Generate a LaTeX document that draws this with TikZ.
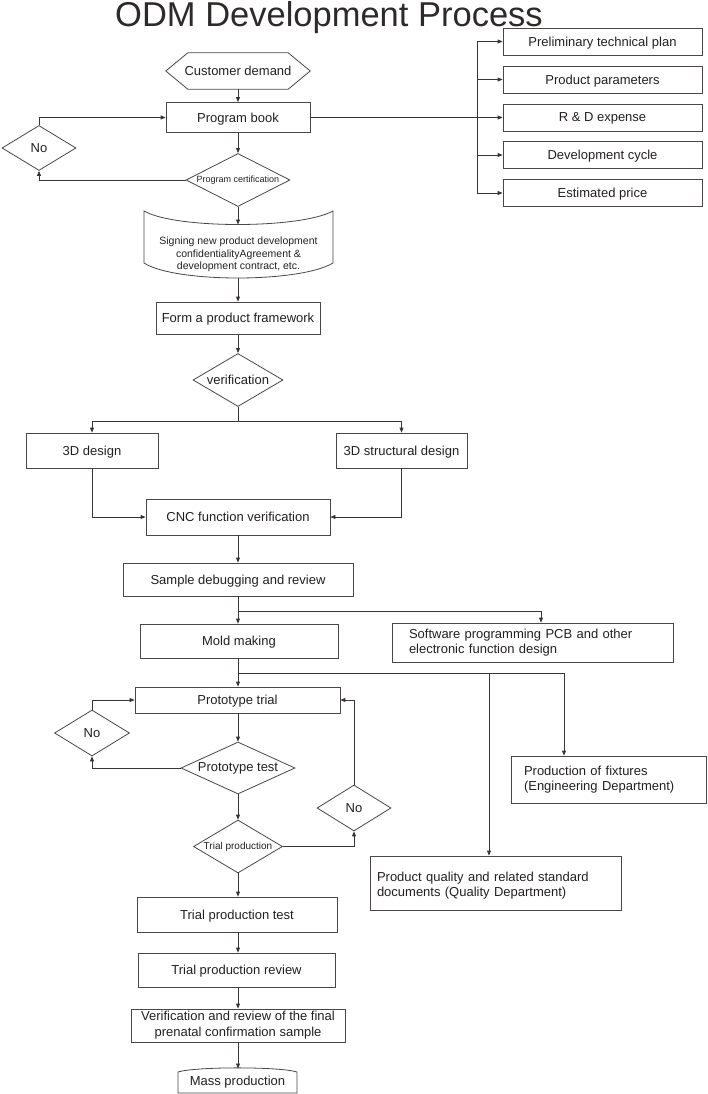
\documentclass[tikz,border=0pt]{standalone}
\usepackage{fontspec}
\setmainfont{Liberation Sans}
\usetikzlibrary{arrows.meta,shapes.geometric}
\definecolor{ln}{HTML}{3A3535}
\definecolor{tx}{HTML}{231F20}
\definecolor{bd}{HTML}{4A4646}
\definecolor{ttl}{HTML}{2E2A2A}
\newcommand\zw[1]{\makebox[0pt]{#1}}
\begin{document}
\begin{tikzpicture}[x=1pt,y=-1pt,
  every node/.style={text=tx,font=\fontsize{13}{15}\selectfont,inner sep=0pt},
  box/.style={draw=bd,line width=0.8pt,rectangle,text depth=0pt},
  mbox/.style={draw=bd,line width=0.8pt,rectangle},
  dia/.style={draw=bd,line width=0.8pt,diamond,aspect=1},
  ghost/.style={rectangle,text depth=0pt},
  lnk/.style={draw=ln,line width=0.8pt},
  arr/.style={draw=ln,line width=0.8pt,-{Triangle[length=5pt,width=4pt]}}]
\useasboundingbox (0,0) rectangle (707,1094);

% title
\node[font=\fontsize{34.5}{36}\selectfont,text=ttl,anchor=base] (title) at (329,27) {ODM Development Process};

% top column
\node[ghost,minimum width=144pt,minimum height=36pt] (cust) at (238,71) {Customer demand};
\draw[draw=bd,line width=0.8pt] (cust.west) -- ([xshift=22pt]cust.north west) -- ([xshift=-22pt]cust.north east) -- (cust.east) -- ([xshift=-22pt]cust.south east) -- ([xshift=22pt]cust.south west) -- cycle;
\node[box,minimum width=144pt,minimum height=30pt] (pbook) at (238,117.5) {Program book};
\node[dia,minimum width=74pt,minimum height=45pt] (no1) at (39,148) {\zw{No}};
\node[dia,minimum width=104pt,minimum height=53pt,font=\fontsize{9}{10}\selectfont] (cert) at (238,180) {\zw{Program certification}};
\node[ghost,minimum width=189pt,minimum height=67pt,align=center,font=\fontsize{10.5}{12.5}\selectfont] (sign) at (238.5,253.5) {Signing new product development\\confidentialityAgreement \&\\development contract, etc.};
\draw[draw=bd,line width=0.8pt] (144,211) .. controls (175,229) and (300,229) .. (333,211) -- (333,263) .. controls (300,283) and (175,283) .. (144,263) -- cycle;
\coordinate (signtop) at (238,224.5);
\coordinate (signbot) at (238,278);

% right list
\node[box,minimum width=199pt,minimum height=27pt] (plan) at (602.5,41.5) {Preliminary technical plan};
\node[box,minimum width=199pt,minimum height=27pt] (param) at (602.5,79.5) {Product parameters};
\node[box,minimum width=199pt,minimum height=27pt] (rd) at (602.5,117.5) {R \& D expense};
\node[box,minimum width=199pt,minimum height=27pt] (cycle) at (602.5,155) {Development cycle};
\node[box,minimum width=199pt,minimum height=27pt] (price) at (602.5,193) {Estimated price};
\coordinate (bus) at (477,117.5);

% middle
\node[box,minimum width=164pt,minimum height=32pt] (form) at (238,318) {Form a product framework};
\node[dia,minimum width=90pt,minimum height=53pt] (verif) at (238,380) {\zw{verification}};
\coordinate (br1) at (238,421);
\node[box,minimum width=132pt,minimum height=35pt] (d3) at (92,450.5) {3D design};
\node[box,minimum width=131pt,minimum height=35pt] (d3s) at (401.5,450.5) {3D structural design};
\node[box,minimum width=184pt,minimum height=36pt] (cnc) at (238,517) {CNC function verification};
\node[box,minimum width=230pt,minimum height=33pt] (sample) at (238,579.5) {Sample debugging and review};
\coordinate (br2) at (238,611);
\node[box,minimum width=198pt,minimum height=34pt] (mold) at (239,641) {Mold making};
\node[mbox,minimum width=281pt,minimum height=39pt,text width=247pt,align=left] (soft) at (532.5,642.5) {Software programming PCB and other\\electronic function design};
\coordinate (br3) at (238,673);

% prototype loop
\node[box,minimum width=205pt,minimum height=26pt] (trial) at (237.5,700) {Prototype trial};
\node[dia,minimum width=75pt,minimum height=46pt] (no2) at (92,733) {\zw{No}};
\node[dia,minimum width=114pt,minimum height=52pt] (test) at (238,768) {\zw{Prototype test}};
\node[dia,minimum width=89pt,minimum height=53pt,font=\fontsize{10}{11}\selectfont] (tprod) at (238,846.5) {\zw{Trial production}};
\node[dia,minimum width=74pt,minimum height=46pt] (no3) at (354,808) {\zw{No}};

% right departments
\node[mbox,minimum width=195pt,minimum height=47pt,text width=169pt,align=left] (fix) at (608.5,779.5) {Production of fixtures\\(Engineering Department)};
\node[mbox,minimum width=251pt,minimum height=54pt,text width=237pt,align=left] (qual) at (495.5,883) {\rule{0pt}{14.4pt}Product quality and related standard\\documents (Quality Department)};

% bottom column
\node[box,minimum width=200pt,minimum height=35pt] (tptest) at (237,914.5) {Trial production test};
\node[box,minimum width=197pt,minimum height=34pt] (tprev) at (236.5,970) {Trial production review};
\node[mbox,minimum width=214pt,minimum height=33pt,align=center,font=\fontsize{13}{16}\selectfont] (final) at (238,1025.5) {Verification and review of the final\\prenatal confirmation sample};
\node[ghost,minimum width=119pt,minimum height=24pt] (mass) at (237.5,1081) {Mass production};
\draw[draw=bd,line width=0.8pt] (178,1093) -- (178,1072) .. controls (195,1066.5) and (280,1066.5) .. (297,1072) -- (297,1093) -- cycle;
\coordinate (masstop) at (238,1068.5);

% connectors
\draw[arr] (cust.south) -- (pbook.north);
\draw[arr] (pbook.south) -- (cert.north);
\draw[arr] (cert.west) -| (no1.south);
\draw[arr] (no1.north) |- (pbook.west);
\draw[arr] (cert.south) -- (signtop);
\draw[arr] (signbot) -- (form.north);
\draw[arr] (pbook.east) -- (rd.west);
\draw[arr] (bus) |- (plan.west);
\draw[arr] (bus) |- (param.west);
\draw[arr] (bus) |- (cycle.west);
\draw[arr] (bus) |- (price.west);
\draw[arr] (form.south) -- (verif.north);
\draw[lnk] (verif.south) -- (br1);
\draw[arr] (br1) -| (d3.north);
\draw[arr] (br1) -| (d3s.north);
\draw[arr] (d3.south) |- (cnc.west);
\draw[arr] (d3s.south) |- (cnc.east);
\draw[arr] (cnc.south) -- (sample.north);
\draw[arr] (sample.south) -- (mold.north -| sample.south);
\draw[arr] (br2) -| ([xshift=8.5pt]soft.north);
\draw[arr] (mold.south -| br3) -- (trial.north -| br3);
\draw[arr] (br3) -| ([xshift=-6.5pt]qual.north);
\draw[arr] (br3) -| ([xshift=-44.5pt]fix.north);
\draw[arr] (trial.south -| test.north) -- (test.north);
\draw[arr] (test.west) -| (no2.south);
\draw[arr] (no2.north) |- (trial.west);
\draw[arr] (test.south) -- (tprod.north);
\draw[arr] (tprod.east) -| (no3.south);
\draw[arr] (no3.north) |- (trial.east);
\draw[arr] (tprod.south) -- (tptest.north -| tprod.south);
\draw[arr] (tptest.south -| final.north) -- (tprev.north -| final.north);
\draw[arr] (tprev.south -| final.north) -- (final.north);
\draw[arr] (final.south) -- (masstop);
\end{tikzpicture}
\end{document}
